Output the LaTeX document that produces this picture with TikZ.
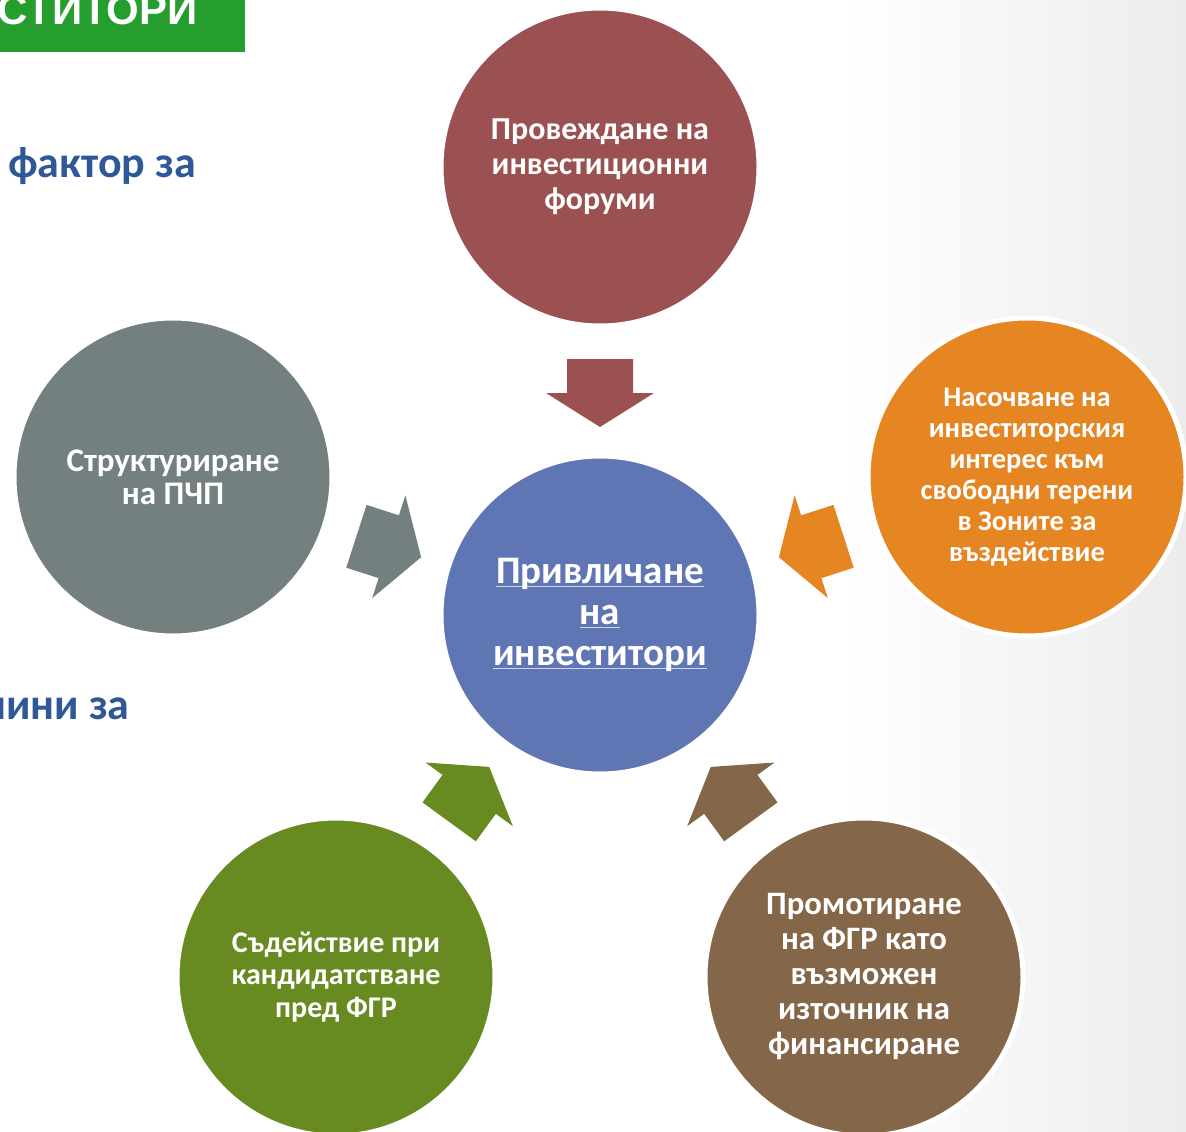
\documentclass[tikz,border=0pt]{standalone}
\usepackage{fontspec}
\setmainfont{Carlito}
\newfontfamily\bannerfont{Liberation Sans}
\definecolor{pmaroon}{RGB}{155, 81, 82}
\definecolor{pblue}{RGB}{96, 118, 180}
\definecolor{pgray}{RGB}{116, 127, 128}
\definecolor{porange}{RGB}{229, 134, 35}
\definecolor{pgreen}{RGB}{103, 138, 33}
\definecolor{pbrown}{RGB}{132, 103, 73}
\definecolor{pgreenbar}{RGB}{37, 158, 46}
\definecolor{ptitle}{RGB}{46, 88, 152}
\definecolor{pbg}{RGB}{236, 236, 236}
\usetikzlibrary{calc}
\newcommand\pul[1]{\setbox0\hbox{#1}\rlap{\color{white!70!pblue}\rule[-3pt]{\wd0}{1pt}}\box0}

\begin{document}
\begin{tikzpicture}[x=1pt, y=-1pt,
  pcirc/.style={circle, draw=white, line width=5pt, minimum size=318pt, inner sep=0pt, align=center, text=white},
  ptext/.style={anchor=base west, text=ptitle, font=\fontsize{44}{50}\bfseries\selectfont, inner sep=0pt}
]
  \useasboundingbox (0,0) rectangle (1186,1132);
  \fill[white] (0,0) rectangle (1186,1132);
  \shade[left color=white, right color=pbg] (840,0) rectangle (1186,1132);

  % title bar and the cut-off slide text
  \fill[pgreenbar] (0,0) rectangle (245,52);
  \node[anchor=base west, inner sep=0pt, text=white, font=\bannerfont\fontsize{42}{48}\bfseries\selectfont] (banner) at (-3,25) {СТИТОРИ};
  \node[ptext] (factor) at (8,177) {фактор за};
  \node[ptext] (means) at (-18,719) {нини за};

  % circles
  \node[pcirc, fill=pblue, font=\fontsize{39}{41}\bfseries\selectfont] (mid) at (600,615) {\pul{Привличане}\\ \pul{на}\\ \pul{инвеститори}};
  \node[pcirc, fill=pmaroon, font=\fontsize{32}{35}\bfseries\selectfont] (forum) at (600,167) {Провеждане на\\ инвестиционни\\ форуми};
  \node[pcirc, fill=pgray, font=\fontsize{33}{33}\bfseries\selectfont] (ppp) at (173,477) {Структуриране\\ на ПЧП};
  \node[pcirc, fill=porange, font=\fontsize{28.5}{31}\bfseries\selectfont] (zones) at (1027,477) {Насочване на\\ инвеститорския\\ интерес към\\ свободни терени\\ в Зоните за\\ въздействие};
  \node[pcirc, fill=pgreen, font=\fontsize{30}{32.5}\bfseries\selectfont] (fgrhelp) at (336,977) {Съдействие при\\ кандидатстване\\ пред ФГР};
  \node[pcirc, fill=pbrown, font=\fontsize{32.7}{35}\bfseries\selectfont] (fgrpromo) at (864,977) {Промотиране\\ на ФГР като\\ възможен\\ източник на\\ финансиране};

  % block arrows towards the centre
  \foreach \n/\c in {forum/pmaroon, ppp/pgray, zones/porange, fgrhelp/pgreen, fgrpromo/pbrown}
    \fill[\c] ($(mid)!256pt!(\n)!33pt!90:(\n)$) -- ($(mid)!222pt!(\n)!33pt!90:(\n)$)
      -- ($(mid)!222pt!(\n)!54pt!90:(\n)$) -- ($(mid)!188pt!(\n)$)
      -- ($(mid)!222pt!(\n)!54pt!-90:(\n)$) -- ($(mid)!222pt!(\n)!33pt!-90:(\n)$)
      -- ($(mid)!256pt!(\n)!33pt!-90:(\n)$) -- cycle;
\end{tikzpicture}
\end{document}
